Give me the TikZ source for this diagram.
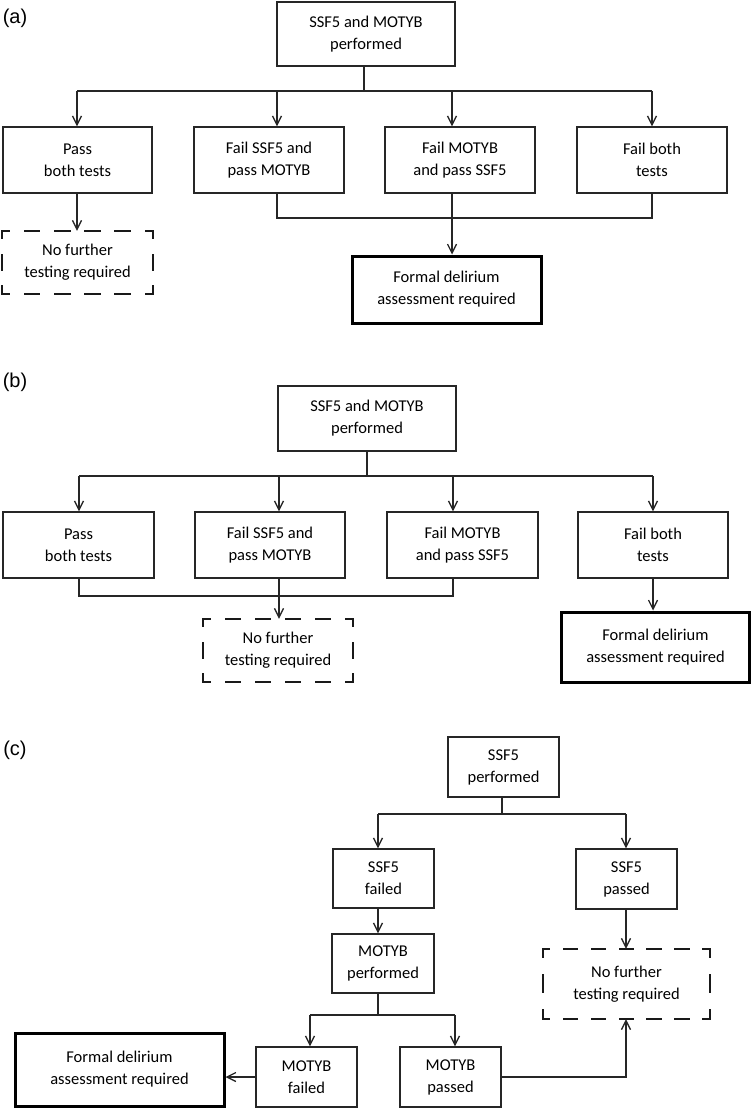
\documentclass[tikz,border=0pt]{standalone}
\usepackage{fontspec}
\setmainfont{Carlito}
\newfontfamily\labelfont{Liberation Sans}
\usetikzlibrary{arrows.meta}
\newcommand\dashedframe[7]{%
  \draw[dline, dash pattern=on #2pt off #3pt, dash phase=#4pt] (#1.north west) -- (#1.north east);
  \draw[dline, dash pattern=on #2pt off #3pt, dash phase=#4pt] (#1.south west) -- (#1.south east);
  \draw[dline, dash pattern=on #5pt off #6pt, dash phase=#7pt] (#1.north west) -- (#1.south west);
  \draw[dline, dash pattern=on #5pt off #6pt, dash phase=#7pt] (#1.north east) -- (#1.south east);
}
\begin{document}
\begin{tikzpicture}[x=1pt,y=-1pt,
  every node/.style={font=\fontsize{16.5}{22}\selectfont, align=center, inner sep=0pt},
  box/.style={draw=black!85, line width=1.3pt, rectangle},
  thickbox/.style={draw=black, line width=3pt, rectangle},
  dashbox/.style={rectangle},
  dline/.style={draw=black!90, line width=2.5pt, line cap=rect},
  conn/.style={draw=black!85, line width=1.3pt},
  arr/.style={conn, -{Straight Barb[length=9pt,width=9pt,line width=1.3pt]}},
  panel/.style={font=\labelfont\fontsize{20}{24}\selectfont}
]
\useasboundingbox (0,0) rectangle (752,1110);

% ---------------- (a) ----------------
\node[panel] (la) at (15,18) {(a)};
\node[box, minimum width=178pt, minimum height=64pt] (a0) at (366,34) {SSF5 and MOTYB\\performed};
\node[box, minimum width=149pt, minimum height=66pt] (a1) at (77.5,160) {Pass\\both tests};
\node[box, minimum width=150pt, minimum height=66pt] (a2) at (269,160) {Fail SSF5 and\\pass MOTYB};
\node[box, minimum width=150pt, minimum height=66pt] (a3) at (460,160) {Fail MOTYB\\and pass SSF5};
\node[box, minimum width=150pt, minimum height=66pt] (a4) at (652,160) {Fail both\\tests};
\node[dashbox, minimum width=151pt, minimum height=63pt] (ad) at (77.5,262.5) {No further\\testing required};
\node[thickbox, minimum width=189pt, minimum height=67pt] (af) at (446.5,289.5) {Formal delirium\\assessment required};
\dashedframe{ad}{14.1}{16.1}{7.05}{14.8}{16.7}{7.4}

\coordinate (abus) at (364,91);
\coordinate (abl) at (77,91);
\coordinate (abr) at (652,91);
\coordinate (ax2) at (277,0);
\coordinate (ax3) at (452,0);
\coordinate (acl) at (277,218);
\coordinate (acr) at (652,218);
\draw[conn] (a0.south -| abus) -- (abus);
\draw[conn] (abl) -- (abr);
\draw[arr] (abl) -- (a1.north -| abl);
\draw[arr] (abus -| ax2) -- (a2.north -| ax2);
\draw[arr] (abus -| ax3) -- (a3.north -| ax3);
\draw[arr] (abr) -- (a4.north -| abr);
\draw[arr] (a1.south -| abl) -- (ad.north -| abl);
\draw[conn] (a2.south -| ax2) -- (acl) -- (acr) -- (a4.south -| acr);
\draw[arr] (a3.south -| ax3) -- (af.north -| ax3);

% ---------------- (b) ----------------
\node[panel] (lb) at (15,382) {(b)};
\node[box, minimum width=178pt, minimum height=65pt] (b0) at (367,418.5) {SSF5 and MOTYB\\performed};
\node[box, minimum width=151pt, minimum height=66pt] (b1) at (78.5,545) {Pass\\both tests};
\node[box, minimum width=150pt, minimum height=66pt] (b2) at (270,545) {Fail SSF5 and\\pass MOTYB};
\node[box, minimum width=151pt, minimum height=66pt] (b3) at (462.5,545) {Fail MOTYB\\and pass SSF5};
\node[box, minimum width=150pt, minimum height=66pt] (b4) at (653,545) {Fail both\\tests};
\node[dashbox, minimum width=150pt, minimum height=63pt] (bd) at (278,650.5) {No further\\testing required};
\node[thickbox, minimum width=188pt, minimum height=70pt] (bf) at (655.5,647) {Formal delirium\\assessment required};
\dashedframe{bd}{14}{16}{7}{14.8}{16.7}{7.4}

\coordinate (bbus) at (367,476);
\coordinate (bbl) at (79,476);
\coordinate (bbr) at (653,476);
\coordinate (bx2) at (279,0);
\coordinate (bx3) at (453,0);
\coordinate (bcl) at (79,596);
\coordinate (bcr) at (453,596);
\draw[conn] (b0.south -| bbus) -- (bbus);
\draw[conn] (bbl) -- (bbr);
\draw[arr] (bbl) -- (b1.north -| bbl);
\draw[arr] (bbus -| bx2) -- (b2.north -| bx2);
\draw[arr] (bbus -| bx3) -- (b3.north -| bx3);
\draw[arr] (bbr) -- (b4.north -| bbr);
\draw[conn, line width=2.2pt] (b1.south -| bcl) -- (bcl) -- (bcr) -- (b3.south -| bcr);
\draw[arr] (b2.south -| bx2) -- (bd.north -| bx2);
\draw[arr] (b4.south -| bbr) -- (bf.north -| bbr);

% ---------------- (c) ----------------
\node[panel] (lc) at (15,750) {(c)};
\node[box, minimum width=111pt, minimum height=60pt] (c0) at (503.5,767) {SSF5\\performed};
\node[box, minimum width=101pt, minimum height=59pt] (c1) at (383.5,878.5) {SSF5\\failed};
\node[box, minimum width=101pt, minimum height=60pt] (c2) at (626.5,879) {SSF5\\passed};
\node[box, minimum width=102pt, minimum height=59pt] (c3) at (383,963.5) {MOTYB\\performed};
\node[box, minimum width=101pt, minimum height=60pt] (c4) at (306.5,1077) {MOTYB\\failed};
\node[box, minimum width=101pt, minimum height=60pt] (c5) at (450.5,1077) {MOTYB\\passed};
\node[thickbox, minimum width=209pt, minimum height=73pt] (cf) at (119.5,1069.5) {Formal delirium\\assessment required};
\node[dashbox, minimum width=167pt, minimum height=70pt] (cd) at (626.5,984) {No further\\testing required};
\dashedframe{cd}{12.8}{15.03}{6.4}{16.5}{18.5}{8.25}

\coordinate (cbus) at (502,814);
\coordinate (cbl) at (378,814);
\coordinate (cbr) at (626,814);
\coordinate (cbus2) at (378,1015);
\coordinate (cb2l) at (310,1015);
\coordinate (cb2r) at (455,1015);
\coordinate (ccr) at (626,1077);
\draw[conn] (c0.south -| cbus) -- (cbus);
\draw[conn] (cbl) -- (cbr);
\draw[arr] (cbl) -- (c1.north -| cbl);
\draw[arr] (cbr) -- (c2.north -| cbr);
\draw[arr] (c1.south -| cbl) -- (c3.north -| cbl);
\draw[conn] (c3.south -| cbus2) -- (cbus2);
\draw[conn] (cb2l) -- (cb2r);
\draw[arr] (cb2l) -- (c4.north -| cb2l);
\draw[arr] (cb2r) -- (c5.north -| cb2r);
\draw[arr] (c4.west) -- (c4.west -| cf.east);
\draw[arr] (c2.south -| cbr) -- (cd.north -| cbr);
\draw[arr] (c5.east) -- (ccr) -- (cd.south -| ccr);
\end{tikzpicture}
\end{document}
